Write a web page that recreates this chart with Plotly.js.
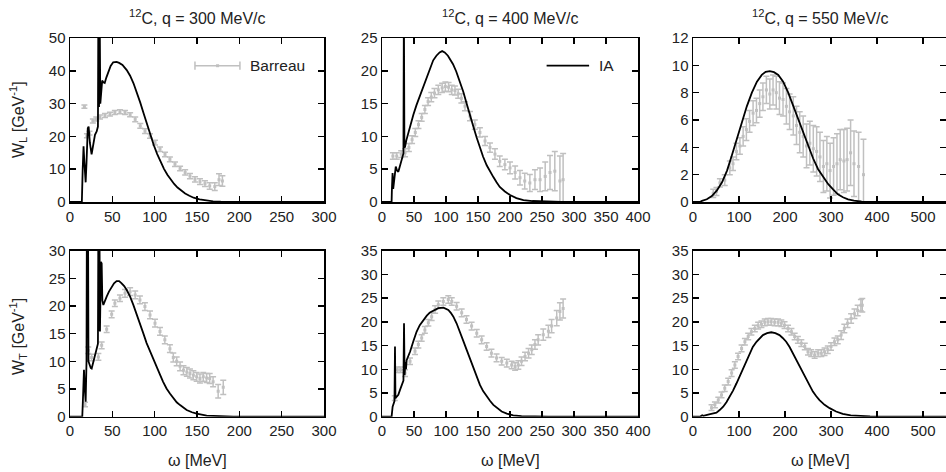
<!DOCTYPE html>
<html>
<head>
<meta charset="utf-8">
<script src="https://cdn.plot.ly/plotly-3.0.1.min.js"></script>
<style>html,body{margin:0;padding:0;background:#fff;}#chart{width:946px;height:472px;}</style>
</head>
<body>
<div id="chart"></div>
<script>
// ---------- Panel titles / axis labels ----------
const panelTitles = ["<sup>12</sup>C, q = 300 MeV/c", "<sup>12</sup>C, q = 400 MeV/c", "<sup>12</sup>C, q = 550 MeV/c"];
const yTitleL = "W<sub>L</sub> [GeV<sup>-1</sup>]";
const yTitleT = "W<sub>T</sub> [GeV<sup>-1</sup>]";
const xTitle = "ω [MeV]";
const legendData = "Barreau";
const legendIA = "IA";

// ---------- IA (theory) curves ----------
const iaL300_w = [0,14,15,16,17,18.5,19.5,21,22,23.5,25.5,27.5,29.5,31.5,33,33.5,34.3,35,35.8,37,38,39.5,41,43,45,48,51,55,58,62,67,71,75,79,83,87,91,95,99,103,107,111,115,119,123,127,131,136,141,146,153,160,169,178,190,200,300];
const iaL300_v = [0,0,10,17,12,6,12,22.5,23,18,14.5,17,20.5,21.5,23,60,29,60,30,35,37,36.5,36.3,38,39.7,41.5,42.6,42.7,42.4,41.8,40.2,38.5,36.2,33.5,30.3,27,23.5,20.3,17.3,14.6,12.2,10.1,8.3,6.8,5.5,4.4,3.5,2.6,1.9,1.3,0.8,0.5,0.22,0.09,0.03,0,0];

const iaL400_w = [0,15,15.5,16.5,17.5,19,21.5,23.5,25.5,27.5,29.5,32,33.5,34.2,35,36,38,41,45,49,54,59,64,70,75,80,85,90,94,98,103,107,111,116,122,127,132,137,142.7,148,153,158,163.6,169,174,179,184,192,200,210,221,235,247,265,280,400];
const iaL400_v = [0,0,2,4.4,2,3.5,5.4,4.8,4.6,5.3,6,6.8,7.4,30,8.3,8.4,9.4,10.5,12,13.3,14.8,16.1,17.6,19.1,20.4,21.6,22.3,22.8,23,22.8,22.3,21.7,21,19.9,18.3,16.8,15.1,13.3,11.5,9.8,8.2,6.9,5.6,4.6,3.8,3,2.3,1.6,1.07,0.6,0.3,0.15,0.08,0.02,0,0];

const iaL550_w = [0,15,19.5,30,41,52,62.8,74,84.4,95,106,117,128,139,149.5,158,167,176,185.4,196,207,218,229,240,250.5,261,272,283,294,305,315,326,337,350,366,390,550];
const iaL550_v = [0,0,0.08,0.2,0.44,0.85,1.42,2.3,3.4,4.6,5.8,7.0,8.0,8.8,9.3,9.52,9.58,9.5,9.3,8.8,8.0,7.0,6.0,5.0,4.1,3.2,2.4,1.8,1.3,0.9,0.56,0.35,0.2,0.1,0.03,0,0];

const iaT300_w = [0,14.5,15.5,16.5,17.5,18.5,19.5,20,20.6,21.2,21.8,23,24.5,25.6,27,28.8,31.5,33,33.6,34.2,34.8,35.4,36.5,37.4,38.2,39.4,41,43.3,46,49.2,52,55,58,61,64,67,71,74.8,78.7,82.6,86.5,90.5,94.5,98.4,102,106.3,110,114,118,122,126,130,134,137.8,144,149.6,161.4,177,193,300];
const iaT300_v = [0,0,4,8.5,5,2.7,10,40,20,40,10,9.3,8.8,8.7,9.6,10.4,12.5,13.2,40,15.5,35,15.4,28,27.7,21,20.2,21,21.7,22.6,23.4,24.1,24.5,24.5,24.1,23.6,22.9,21.7,20.2,18.6,16.9,15.1,13.3,11.8,10.3,8.9,7.6,6.3,5.1,4.2,3.3,2.6,2.1,1.6,1.2,0.8,0.55,0.2,0.05,0,0];

const iaT400_w = [0,15,16.6,18,19.5,20.3,21,23,25.5,28,30.7,33.5,34.4,35.3,36.5,37.5,38.5,41,43.8,49,54,59,64.6,70,75,81,88,96,100,103.6,107.5,111.5,116.5,122,127,132.3,137.5,142.7,148,153,158,163.5,169,174,180,187,195,205,218,231,260,400];
const iaT400_v = [0,0,2.1,3,3.3,14.8,3.9,4.2,4.6,5.6,6.7,7.6,19.7,8.8,11.5,10,11.9,12.6,13.7,15.9,17.9,19.3,20.4,21.3,22,22.5,22.9,23,22.8,22.5,21.9,21.1,19.7,17.9,16,14.1,12.2,10.3,8.4,6.7,5.4,4.3,3.3,2.5,1.8,1.1,0.65,0.3,0.12,0.05,0,0];

const iaT550_w = [0,15,20,22.4,35,51,58,65.6,73,80,87,94.4,102,109,116,123.4,130,138,145,152,161,170,179,188,195,202.6,210,217,224,231.6,239,246,253,260.6,268,275,286,297,311,325.5,343,361.5,385,405,550];
const iaT550_v = [0,0,0.3,0.2,0.5,0.84,1.4,2.1,3.1,4.2,5.5,7.0,8.6,10.2,11.8,13.4,14.7,15.8,16.6,17.2,17.6,17.8,17.6,17.2,16.6,15.8,14.7,13.4,12.1,10.6,9.1,7.7,6.4,5.3,4.3,3.5,2.5,1.8,1.1,0.6,0.3,0.14,0.04,0,0];

// ---------- Barreau data ----------
const dL300_w = [17,20,23,27,31,35.4,41.3,47.2,53,59,65,71,77,83,88.6,94.5,100.4,106.3,112.2,118,124,130,136,141.7,147.6,153.5,159.4,165,171,176,180];
const dL300_v = [29.1,20.2,21.0,24.7,25.3,25.9,26.4,26.8,27.3,27.5,27.3,26.6,25.2,23.2,21.6,20.1,18.1,16.1,14.5,13.0,11.5,10.2,9.0,7.9,6.9,6.2,5.6,4.9,4.7,6.8,6.4];
const dL300_e = [0.5,0.6,0.6,0.6,0.6,0.6,0.6,0.6,0.6,0.6,0.6,0.6,0.7,0.7,0.7,0.7,0.7,0.7,0.7,0.7,0.7,0.7,0.8,0.8,0.8,0.9,0.9,1.0,1.2,1.8,1.6];

const dL400_w = [17,23,30,36,42,47,52,57,62,67,72,77,82,88,94,99,104,109,114,119,124,129.7,137.5,145,153,161,168.7,176.5,184,192,200,208,215.6,223,231,239,247,255,262.5,270,278,283];
const dL400_v = [7.0,7.0,7.3,7.5,8.3,9.5,10.6,11.8,12.9,14.1,15.3,16.0,16.6,17.1,17.4,17.6,17.5,17.1,17.0,16.5,15.8,14.6,13.1,11.8,10.6,9.3,8.3,7.3,6.2,5.7,5.2,4.5,3.7,3.2,2.9,3.4,3.4,3.9,4.5,4.7,3.2,3.4];
const dL400_e = [0.5,0.5,0.5,0.6,0.6,0.6,0.6,0.6,0.6,0.6,0.6,0.7,0.7,0.7,0.7,0.7,0.7,0.7,0.7,0.7,0.7,0.7,0.7,0.7,0.7,0.7,0.7,0.8,0.8,0.8,0.9,1.0,1.1,1.2,1.3,1.5,1.8,2.2,2.6,3.0,3.8,4.0];

const dL550_w = [44,51,58.5,69,80,87,94.4,102,109,116,123,130.6,138,145,152,159.5,167,174,181,188,195.7,203,210,218,225,232,239.5,246.8,254,261.5,268.8,276,283.5,291,298,305.6,313,320,328,335,342.6,350,360,370.6];
const dL550_v = [0.63,0.77,1.4,1.6,2.5,2.8,3.7,4.1,4.8,5.3,5.9,6.5,6.7,7.2,7.7,8.2,7.9,8.2,8.0,7.6,7.5,7.0,6.6,6.3,5.6,5.1,4.8,4.1,4.3,3.9,3.7,3.3,2.6,2.8,2.3,2.6,2.8,3.1,3.0,3.1,3.6,2.8,2.6,2.0];
const dL550_e = [0.3,0.3,0.3,0.4,0.5,0.5,0.6,0.6,0.7,0.8,0.8,0.9,0.9,1.0,1.0,1.0,1.1,1.1,1.2,1.2,1.2,1.3,1.3,1.4,1.4,1.5,1.5,1.6,1.6,1.7,1.8,1.8,1.9,2.0,2.0,2.1,2.2,2.2,2.3,2.3,2.4,2.4,2.5,2.6];

const dT300_w = [17.7,21.6,25.6,33.5,37.4,43.3,49.2,53,59,65,71,77,82.6,88.5,94.5,100.4,106.3,112,118,122,126,130,134,138,141.7,145.7,149.6,153.5,157.4,161.4,165,169,175,181];
const dT300_v = [2.2,12.0,10.7,10.8,12.9,15.8,18.5,20.5,21.4,22.3,22.6,22.0,21.1,19.9,18.4,16.9,15.4,13.9,12.3,10.7,10.0,9.1,8.4,8.1,7.8,7.5,7.2,6.9,7.2,7.0,6.9,6.3,4.6,5.3];
const dT300_e = [0.4,0.6,0.6,0.6,0.6,0.6,0.6,0.6,0.6,0.7,0.7,0.7,0.7,0.7,0.7,0.7,0.7,0.7,0.7,0.8,0.8,0.8,0.8,0.8,0.8,0.8,0.8,0.8,0.8,0.8,0.9,0.9,1.2,1.3];

const dT400_w = [20,24,29,36,43.8,51.6,56.8,62,67,72.4,77.6,83,88,95.8,103.6,109,116.6,124.5,132,140,148,155.7,163.5,171,179,187,195,202.6,208,213,218,223.5,229,234,239,244,252,260,265,273,278,283];
const dT400_v = [3.9,9.9,9.9,9.2,11.7,13.8,15.2,16.6,18.3,19.8,21.1,22.6,23.6,24.3,24.7,24.3,23.3,21.9,20.5,19.1,17.6,16.2,14.8,13.4,12.4,11.7,11.3,10.9,10.6,10.9,11.7,12.7,13.4,14.1,15.2,16.2,17.3,18.0,19.1,20.8,22.2,22.8];
const dT400_e = [0.5,0.6,0.6,0.7,0.7,0.7,0.7,0.7,0.7,0.7,0.8,0.8,0.8,0.8,0.8,0.8,0.8,0.8,0.8,0.8,0.8,0.8,0.8,0.8,0.8,0.8,0.8,0.8,0.8,0.9,0.9,0.9,1.0,1.0,1.0,1.1,1.2,1.3,1.4,1.6,1.8,2.0];

const dT550_w = [40.3,47.6,55,62,69,76.5,84,91,98,105.6,112.8,120,127,134.4,141.6,148.8,156,163,170,177.5,185,192,199,206.6,214,221,228,235.5,243,250,257,264.5,272,279,286,293,300,307.5,314.7,322,329,336,343.7,351,358,365,368];
const dT550_v = [1.9,2.5,3.5,4.6,6.0,7.4,9.2,10.9,12.7,14.4,15.8,16.9,17.9,18.6,19.2,19.5,19.9,20.0,20.0,19.9,19.9,19.7,19.3,18.6,17.9,16.9,16.2,15.5,14.8,13.7,13.4,13.0,13.4,13.4,13.7,14.1,14.8,15.8,16.2,17.2,18.6,19.7,20.7,21.7,22.4,23.5,23.5];
const dT550_e = [0.6,0.6,0.6,0.6,0.7,0.7,0.7,0.7,0.7,0.7,0.7,0.7,0.7,0.7,0.7,0.7,0.7,0.7,0.7,0.7,0.7,0.7,0.7,0.7,0.7,0.7,0.7,0.7,0.7,0.7,0.7,0.7,0.7,0.7,0.8,0.8,0.8,0.8,0.8,0.9,0.9,0.9,1.0,1.0,1.1,1.2,1.4];

// ---------- Axis settings ----------
const xRanges = [[0,300],[0,400],[0,550],[0,300],[0,400],[0,550]];
const xDticks = [50,50,100,50,50,100];
const yRanges = [[0,50],[0,25],[0,12],[0,30],[0,35],[0,35]];
const yDticks = [10,5,2,5,5,5];

const GRAY = '#c0c0c0';
const FONT = 'Liberation Sans, Arial, Helvetica, sans-serif';
const TXT = '#222';

const panels = [
  {ia:[iaL300_w,iaL300_v], d:[dL300_w,dL300_v,dL300_e]},
  {ia:[iaL400_w,iaL400_v], d:[dL400_w,dL400_v,dL400_e]},
  {ia:[iaL550_w,iaL550_v], d:[dL550_w,dL550_v,dL550_e]},
  {ia:[iaT300_w,iaT300_v], d:[dT300_w,dT300_v,dT300_e]},
  {ia:[iaT400_w,iaT400_v], d:[dT400_w,dT400_v,dT400_e]},
  {ia:[iaT550_w,iaT550_v], d:[dT550_w,dT550_v,dT550_e]}
];

const W = 946, H = 472;
const colPx = [[70,324],[382,638],[693,946]];
const rowPx = [[38,202],[250.7,416.7]];

const traces = [];
const layout = {
  width: W, height: H,
  margin: {l:0, r:0, t:0, b:0},
  paper_bgcolor: '#fff', plot_bgcolor: '#fff',
  showlegend: false,
  font: {family: FONT, size: 15, color: TXT},
  annotations: [], shapes: []
};

panels.forEach((p, i) => {
  const n = i + 1;
  const xa = n === 1 ? 'x' : 'x' + n;
  const ya = n === 1 ? 'y' : 'y' + n;
  const col = i % 3, row = Math.floor(i / 3);
  traces.push({
    x: p.d[0], y: p.d[1], xaxis: xa, yaxis: ya, type: 'scatter', mode: 'markers',
    marker: {symbol: 'square', size: 3, color: GRAY},
    error_y: {type: 'data', array: p.d[2], visible: true, color: GRAY, thickness: 1.5, width: 3},
    cliponaxis: true
  });
  traces.push({
    x: p.ia[0], y: p.ia[1], xaxis: xa, yaxis: ya, type: 'scatter', mode: 'lines',
    line: {color: '#000', width: 1.8}
  });
  const common = {
    showline: true, linecolor: '#000', linewidth: 1.5, mirror: 'ticks',
    ticks: 'inside', ticklen: 6, tickwidth: 1.5, tickcolor: '#000',
    showgrid: false, zeroline: false, tickfont: {family: FONT, size: 15, color: TXT}
  };
  layout['xaxis' + (n === 1 ? '' : n)] = Object.assign({}, common, {
    domain: [colPx[col][0] / W, colPx[col][1] / W], range: xRanges[i], dtick: xDticks[i], tick0: 0,
    anchor: ya
  });
  layout['yaxis' + (n === 1 ? '' : n)] = Object.assign({}, common, {
    domain: [(H - rowPx[row][1]) / H, (H - rowPx[row][0]) / H], range: yRanges[i], dtick: yDticks[i], tick0: 0,
    anchor: xa
  });
  const cx = (colPx[col][0] + (col === 2 ? 947 : colPx[col][1])) / 2 / W;
  if (row === 0) {
    layout.annotations.push({
      text: panelTitles[col], xref: 'paper', yref: 'paper', showarrow: false,
      x: cx, y: 1 - 17 / H, xanchor: 'center', yanchor: 'middle', font: {family: FONT, size: 16, color: TXT}
    });
  } else {
    layout.annotations.push({
      text: xTitle, xref: 'paper', yref: 'paper', showarrow: false,
      x: cx, y: 1 - 460 / H, xanchor: 'center', yanchor: 'middle', font: {family: FONT, size: 16, color: TXT}
    });
  }
});

// y titles
layout.annotations.push({text: yTitleL, xref: 'paper', yref: 'paper', showarrow: false, textangle: -90,
  x: 18 / W, y: 1 - 120 / H, xanchor: 'center', yanchor: 'middle', font: {family: FONT, size: 16, color: TXT}});
layout.annotations.push({text: yTitleT, xref: 'paper', yref: 'paper', showarrow: false, textangle: -90,
  x: 18 / W, y: 1 - 337 / H, xanchor: 'center', yanchor: 'middle', font: {family: FONT, size: 16, color: TXT}});

// legend keys (decoration)
const ly = 0.831;
layout.shapes.push({type: 'line', xref: 'x domain', yref: 'y domain', x0: 0.492, x1: 0.669, y0: ly, y1: ly, line: {color: GRAY, width: 1.5}});
layout.shapes.push({type: 'line', xref: 'x domain', yref: 'y domain', x0: 0.492, x1: 0.492, y0: ly - 0.025, y1: ly + 0.025, line: {color: GRAY, width: 1.5}});
layout.shapes.push({type: 'line', xref: 'x domain', yref: 'y domain', x0: 0.669, x1: 0.669, y0: ly - 0.025, y1: ly + 0.025, line: {color: GRAY, width: 1.5}});
layout.shapes.push({type: 'rect', xref: 'x domain', yref: 'y domain', x0: 0.575, x1: 0.587, y0: ly - 0.009, y1: ly + 0.009, fillcolor: GRAY, line: {width: 0}});
layout.annotations.push({text: legendData, xref: 'x domain', yref: 'y domain', x: 0.70, y: ly, xanchor: 'left', yanchor: 'middle', showarrow: false, font: {family: FONT, size: 15.5, color: TXT}});
layout.shapes.push({type: 'line', xref: 'x2 domain', yref: 'y2 domain', x0: 0.643, x1: 0.809, y0: ly, y1: ly, line: {color: '#000', width: 1.8}});
layout.annotations.push({text: legendIA, xref: 'x2 domain', yref: 'y2 domain', x: 0.838, y: ly, xanchor: 'left', yanchor: 'middle', showarrow: false, font: {family: FONT, size: 15.5, color: TXT}});

Plotly.newPlot('chart', traces, layout, {staticPlot: true, displayModeBar: false});
</script>
</body>
</html>
